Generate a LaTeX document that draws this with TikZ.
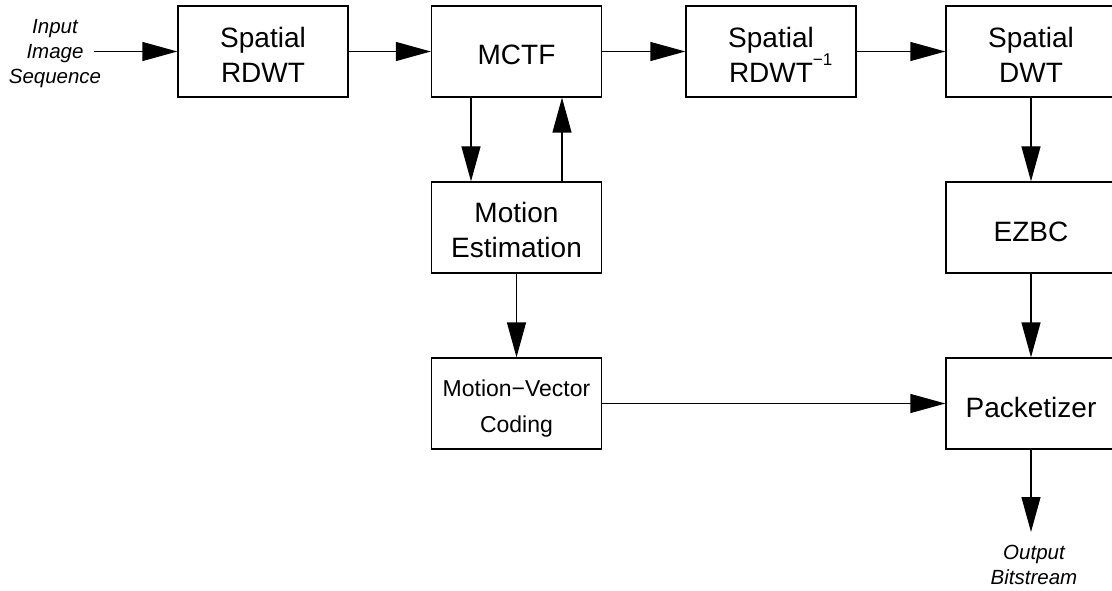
\documentclass[tikz,border=0pt]{standalone}
\usepackage{fontspec}
\setmainfont{Liberation Sans}
\usetikzlibrary{arrows.meta}

\tikzset{
  block/.style={draw=black, line width=1.3pt, minimum width=170pt, minimum height=91pt, inner sep=0pt},
  txt/.style={align=center, inner sep=0pt, font=\fontsize{28}{35}\selectfont},
  smalltxt/.style={align=center, inner sep=0pt, font=\fontsize{23}{35.5}\selectfont},
  iotxt/.style={align=center, inner sep=0pt, font=\fontsize{20.5}{25}\selectfont\itshape},
  flow/.style={line width=1.3pt, -{Triangle[length=35pt,width=19pt]}}
}

\begin{document}
\begin{tikzpicture}[x=1pt, y=-1pt]
  \useasboundingbox (0,0) rectangle (1112,591);
  \clip (0,0) rectangle (1112,591);

  % processing blocks
  \node[block] (rdwt)  at (263,51.5)    {};
  \node[block] (mctf)  at (516.5,51.5)  {};
  \node[block] (irdwt) at (771,51.5)    {};
  \node[block] (dwt)   at (1031,51.5)   {};
  \node[block] (me)    at (516.5,227.5) {};
  \node[block] (ezbc)  at (1031,227.5)  {};
  \node[block] (mvc)   at (516.5,403.5) {};
  \node[block] (pack)  at (1031,403.5)  {};

  % block captions
  \node[txt] (rdwt-t)  at ([yshift=-3pt]rdwt.center)  {Spatial\\RDWT};
  \node[txt] (mctf-t)  at ([yshift=-3.5pt]mctf.center) {MCTF};
  \node[txt] (irdwt-t) at ([yshift=-3pt]irdwt.center) {Spatial\\RDWT\rlap{\raisebox{17pt}{\fontsize{17}{17}\selectfont −1}}};
  \node[txt] (dwt-t)   at ([yshift=-3pt]dwt.center)   {Spatial\\DWT};
  \node[txt] (me-t)    at ([yshift=-2pt]me.center)    {Motion\\Estimation};
  \node[txt] (ezbc-t)  at ([yshift=-4.5pt]ezbc.center) {EZBC};
  \node[smalltxt] (mvc-t) at ([yshift=-5pt]mvc.center) {Motion−Vector\\Coding};
  \node[txt] (pack-t)  at ([yshift=-3.5pt]pack.center) {Packetizer};

  % input and output
  \node[iotxt] (in)  at (55,53.3)  {Input\\Image\\Sequence};
  \node[iotxt] (out) at (1034,565) {Output\\Bitstream};
  \coordinate (in-end)  at (94,51.5);
  \coordinate (out-end) at (1031,532);

  % data flow
  \draw[flow] (in-end) -- (rdwt.west);
  \draw[flow] (rdwt.east) -- (mctf.west);
  \draw[flow] (mctf.east) -- (irdwt.west);
  \draw[flow] (irdwt.east) -- (dwt.west);
  \draw[flow] ([xshift=-45.5pt]mctf.south) -- ([xshift=-45.5pt]me.north);
  \draw[flow] ([xshift=45.5pt]me.north) -- ([xshift=45.5pt]mctf.south);
  \draw[flow] (me.south) -- (mvc.north);
  \draw[flow] (dwt.south) -- (ezbc.north);
  \draw[flow] (ezbc.south) -- (pack.north);
  \draw[flow] (mvc.east) -- (pack.west);
  \draw[flow] (pack.south) -- (out-end);
\end{tikzpicture}
\end{document}
